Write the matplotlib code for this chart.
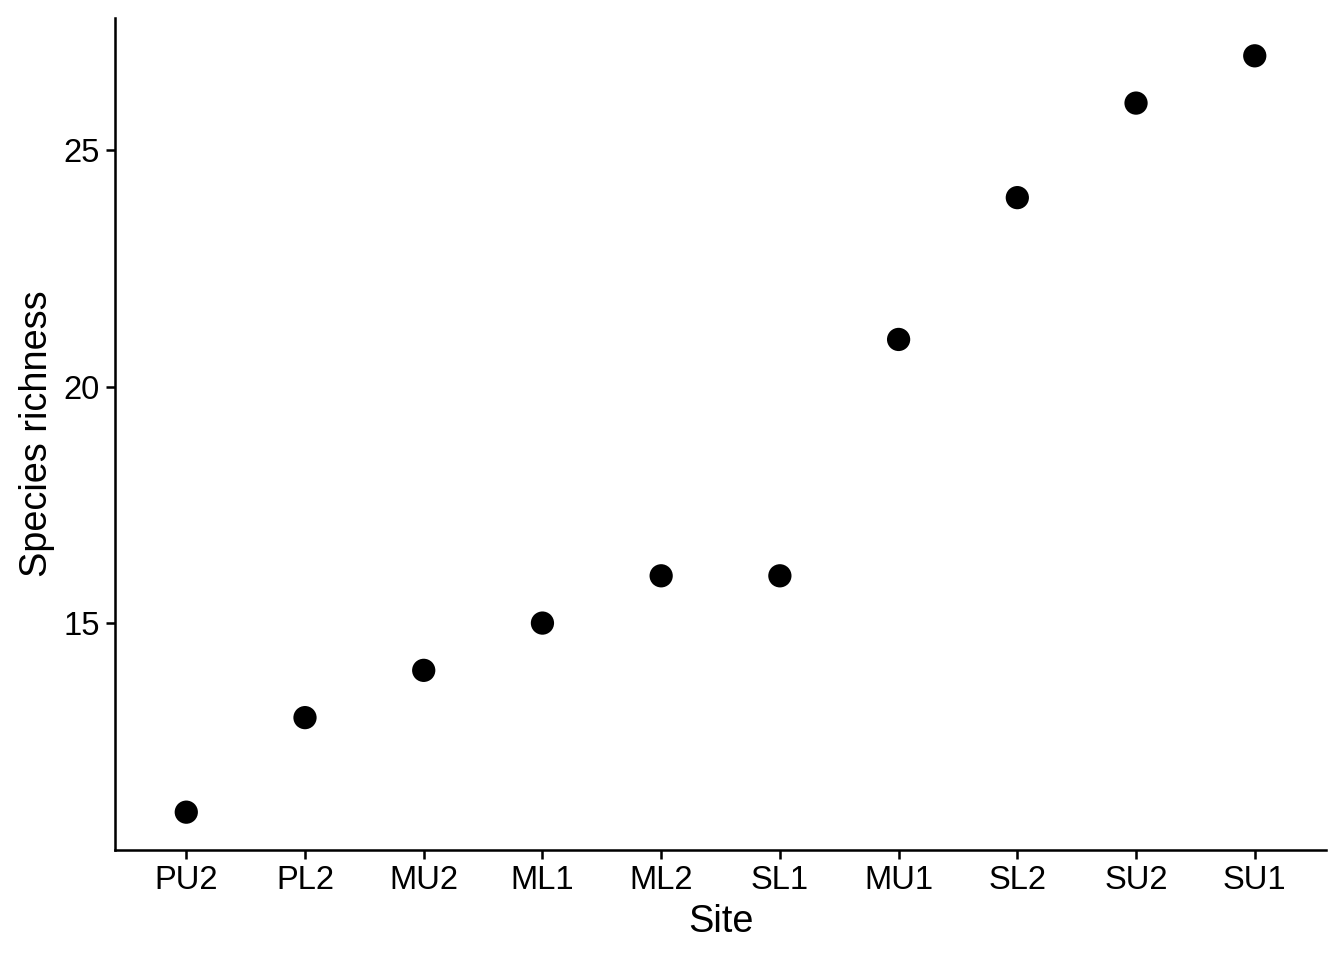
import matplotlib
matplotlib.use("Agg")
import matplotlib.pyplot as plt

# site order as plotted (sorted by richness)
sites = ["PU2", "PL2", "MU2", "ML1", "ML2", "SL1", "MU1", "SL2", "SU2", "SU1"]
richness = [11, 13, 14, 15, 16, 16, 21, 24, 26, 27]

plt.rcParams['font.family'] = ['Liberation Sans', 'DejaVu Sans']

fig = plt.figure(figsize=(7, 5), dpi=192)
ax = fig.add_axes([0.0856, 0.1146, 0.9866 - 0.0856, 0.98125 - 0.1146])

x = list(range(1, len(sites) + 1))
ax.scatter(x, richness, s=76, color="black", edgecolors="none", zorder=3)

ax.set_xticks(x)
ax.set_xticklabels(sites)
ax.set_yticks([15, 20, 25])
lo, hi = min(richness), max(richness)
pad = (hi - lo) * 0.05
ax.set_ylim(lo - pad, hi + pad)
ax.set_xlim(0.4, len(sites) + 0.6)

for side in ["top", "right"]:
    ax.spines[side].set_visible(False)
for side in ["left", "bottom"]:
    ax.spines[side].set_linewidth(0.95)

ax.tick_params(axis="both", length=3.5, width=0.95, labelsize=12.3, pad=2.2, colors="black")
ax.set_xlabel("Site", fontsize=14.2, labelpad=3)
ax.set_ylabel("Species richness", fontsize=14.2, labelpad=3.2)

fig.savefig("out.png", dpi=192)
